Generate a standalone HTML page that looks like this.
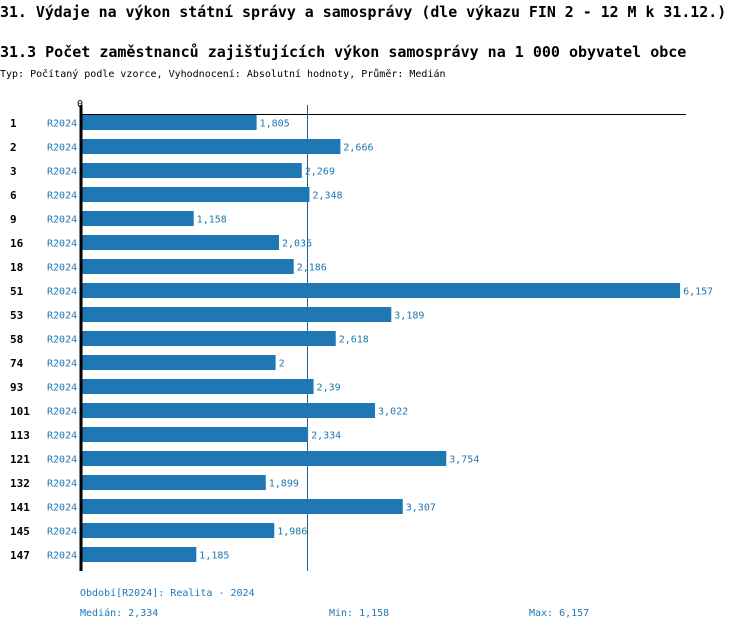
<!DOCTYPE html>
<html><head><meta charset="utf-8"><style>
body{margin:0;background:#fff;width:750px;height:630px;overflow:hidden;font-family:"DejaVu Sans Mono","Liberation Mono",monospace}
svg text{font-family:"DejaVu Sans Mono","Liberation Mono",monospace}
</style></head><body>
<svg width="750" height="630" xmlns="http://www.w3.org/2000/svg">
<text x="0" y="17" font-size="14.9" font-weight="bold">31. Výdaje na výkon státní správy a samosprávy (dle výkazu FIN 2 - 12 M k 31.12.)</text>
<text x="0" y="57" font-size="15" font-weight="bold">31.3 Počet zaměstnanců zajišťujících výkon samosprávy na 1 000 obyvatel obce</text>
<text x="0" y="77" font-size="10">Typ: Počítaný podle vzorce, Vyhodnocení: Absolutní hodnoty, Průměr: Medián</text>
<text x="80" y="107" font-size="10" text-anchor="middle">0</text>
<line x1="80" y1="114.5" x2="686" y2="114.5" stroke="#000" stroke-width="1"/>
<line x1="307.5" y1="105" x2="307.5" y2="571" stroke="#1f5f8f" stroke-width="1"/>
<g id="bars"></g>
<line x1="81" y1="105" x2="81" y2="571" stroke="#000" stroke-width="3"/>
<text x="80" y="596" font-size="10" fill="#1f77b4">Období[R2024]: Realita - 2024</text>
<text x="80" y="616" font-size="10" fill="#1f77b4">Medián: 2,334</text>
<text x="329" y="616" font-size="10" fill="#1f77b4">Min: 1,158</text>
<text x="529" y="616" font-size="10" fill="#1f77b4">Max: 6,157</text>
</svg>
<script>
var d=[["1",1.805,"1,805"],["2",2.666,"2,666"],["3",2.269,"2,269"],["6",2.348,"2,348"],["9",1.158,"1,158"],["16",2.035,"2,035"],["18",2.186,"2,186"],["51",6.157,"6,157"],["53",3.189,"3,189"],["58",2.618,"2,618"],["74",2,"2"],["93",2.39,"2,39"],["101",3.022,"3,022"],["113",2.334,"2,334"],["121",3.754,"3,754"],["132",1.899,"1,899"],["141",3.307,"3,307"],["145",1.986,"1,986"],["147",1.185,"1,185"]];
var s="";d.forEach(function(r,i){var y=115+i*24,w=r[1]*97.3;
s+='<text x="10" y="'+(y+12)+'" font-size="11" font-weight="bold">'+r[0]+'</text>';
s+='<text x="47" y="'+(y+11.5)+'" font-size="10" fill="#1f77b4">R2024</text>';
s+='<rect x="82" y="'+y+'" width="'+(w-1)+'" height="15" fill="#1f77b4"/>';
s+='<text x="'+(81+w+3)+'" y="'+(y+11.5)+'" font-size="10" fill="#1f77b4">'+r[2]+'</text>';});
document.getElementById("bars").innerHTML=s;
</script>
</body></html>
